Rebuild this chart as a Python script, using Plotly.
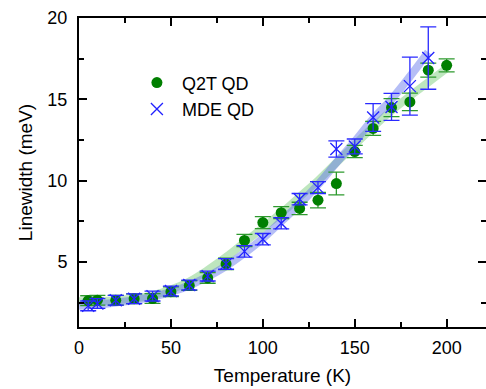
import plotly.graph_objects as go

# Q2T QD data
t_q2t = [5, 10, 20, 30, 40, 50, 60, 70, 80, 90, 100, 110, 120, 130, 140, 150, 160, 170, 180, 190, 200]
w_q2t = [2.62, 2.65, 2.64, 2.74, 2.75, 3.17, 3.55, 4.02, 4.88, 6.32, 7.42, 8.03, 8.29, 8.8, 9.82, 11.79, 13.21, 14.49, 14.84, 16.79, 17.09]
e_q2t = [0.3, 0.3, 0.3, 0.3, 0.3, 0.3, 0.3, 0.33, 0.35, 0.37, 0.37, 0.37, 0.38, 0.47, 0.7, 0.38, 0.43, 0.55, 0.54, 0.43, 0.4]

# MDE QD data
t_mde = [5, 10, 20, 30, 40, 50, 60, 70, 80, 90, 100, 110, 120, 130, 140, 150, 160, 170, 180, 190]
w_mde = [2.3, 2.44, 2.64, 2.74, 2.9, 3.21, 3.58, 4.13, 4.88, 5.65, 6.4, 7.38, 8.86, 9.57, 11.95, 12.1, 13.88, 14.53, 15.81, 17.54]
e_mde = [0.3, 0.3, 0.3, 0.3, 0.3, 0.3, 0.3, 0.3, 0.33, 0.35, 0.35, 0.35, 0.35, 0.37, 0.5, 0.46, 0.85, 0.83, 1.78, 1.92]

# Fit curves
t_fit_q2t = [0, 10, 20, 30, 40, 50, 60, 70, 80, 90, 100, 110, 120, 130, 140, 150, 160, 170, 180, 190, 200]
w_fit_q2t = [2.58, 2.6, 2.65, 2.75, 2.95, 3.3, 3.8, 4.5, 5.3, 6.2, 7.1, 8.0, 9.0, 10.0, 11.1, 12.2, 13.3, 14.3, 15.2, 16.05, 16.9]
t_fit_mde = [0, 10, 20, 30, 40, 50, 60, 70, 80, 90, 100, 110, 120, 130, 140, 150, 160, 170, 180, 190]
w_fit_mde = [2.3, 2.38, 2.5, 2.65, 2.85, 3.15, 3.55, 4.1, 4.75, 5.55, 6.45, 7.5, 8.55, 9.75, 11.1, 12.4, 13.8, 15.0, 16.4, 17.9]

FONT = "Liberation Sans, Arial"

fig = go.Figure()

fig.add_trace(go.Scatter(x=t_fit_q2t, y=w_fit_q2t, mode="lines", showlegend=False,
                         line=dict(color="rgba(110,200,110,0.45)", width=8, shape="spline"),
                         hoverinfo="skip"))
fig.add_trace(go.Scatter(x=t_fit_mde, y=w_fit_mde, mode="lines", showlegend=False,
                         line=dict(color="rgba(90,110,235,0.45)", width=8, shape="spline"),
                         hoverinfo="skip"))

fig.add_trace(go.Scatter(x=t_q2t, y=w_q2t, mode="markers", name="Q2T QD",
                         marker=dict(symbol="circle", size=11, color="#007f00"),
                         error_y=dict(type="data", array=e_q2t, visible=True,
                                      color="#2e9a2e", thickness=1.3, width=8)))
fig.add_trace(go.Scatter(x=t_mde, y=w_mde, mode="markers", name="MDE QD",
                         marker=dict(symbol="x-thin", size=12, color="#2222ff",
                                     line=dict(color="#2222ff", width=1.3)),
                         error_y=dict(type="data", array=e_mde, visible=True,
                                      color="#2a2aff", thickness=1.3, width=8)))
# empty trace to host the right-hand tick axis
fig.add_trace(go.Scatter(x=[], y=[], yaxis="y2", showlegend=False, hoverinfo="skip"))

tickfont = dict(family=FONT, size=18, color="black")
titlefont = dict(family=FONT, size=19, color="black")

fig.update_xaxes(range=[0, 221.4], tickvals=[0, 50, 100, 150, 200],
                 showgrid=False, zeroline=False, showline=True, linecolor="black",
                 linewidth=2, mirror="ticks", ticks="inside", ticklen=8, tickwidth=1.5,
                 tickcolor="black", tickfont=tickfont, ticklabelstandoff=3,
                 minor=dict(tickvals=[25, 75, 125, 175], ticks="inside", ticklen=5, tickwidth=1.5, tickcolor="black"),
                 title=dict(text="Temperature (K)", font=titlefont, standoff=12))

fig.update_layout(
    yaxis=dict(range=[1, 20], tickvals=[5, 10, 15, 20],
               showgrid=False, zeroline=False, showline=True, linecolor="black",
               linewidth=2, mirror=False, ticks="inside", ticklen=8, tickwidth=1.5,
               tickcolor="black", tickfont=tickfont, ticklabelstandoff=6,
               minor=dict(tickvals=[2.5, 7.5, 12.5, 17.5], ticks="inside", ticklen=5, tickwidth=1.5, tickcolor="black"),
               title=dict(text="Linewidth (meV)", font=titlefont, standoff=10)),
    yaxis2=dict(range=[1, 20], tickvals=[5, 10, 15, 20], overlaying="y", side="right", anchor="x",
                showgrid=False, zeroline=False, showline=False, showticklabels=False,
                ticks="inside", ticklen=8, tickwidth=1.5, tickcolor="black",
                minor=dict(tickvals=[2.5, 7.5, 12.5, 17.5], ticks="inside", ticklen=5, tickwidth=1.5, tickcolor="black")),
    width=486, height=389,
    margin=dict(l=79, r=0, t=18, b=62),
    plot_bgcolor="white", paper_bgcolor="white",
    legend=dict(x=0.13, y=0.85, xanchor="left", yanchor="top", itemwidth=40,
                bgcolor="rgba(0,0,0,0)", font=dict(family=FONT, size=18, color="black"),
                tracegroupgap=0),
)

fig.write_html("out.html")
